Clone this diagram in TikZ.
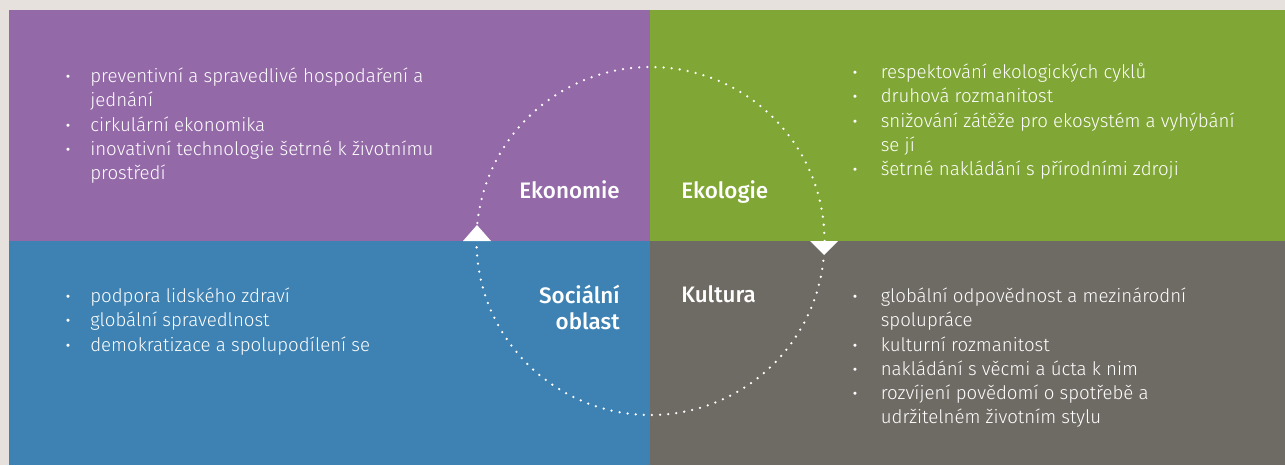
\documentclass[tikz,border=0pt]{standalone}
\usepackage{fontspec}
\setmainfont{Fira Sans Light}[BoldFont=Fira Sans Medium]
\usepackage{array}

\definecolor{pagebg}{RGB}{230,225,221}
\definecolor{ekonomie}{RGB}{148,105,168}
\definecolor{ekologie}{RGB}{128,166,54}
\definecolor{socialni}{RGB}{62,130,179}
\definecolor{kultura}{RGB}{110,106,100}

% bullet list with a hanging indent
\newcommand{\pillarlist}[2][18.4pt]{\begin{tabular}[t]{@{}p{#1}@{}l@{}}#2\end{tabular}}
\newcommand{\bul}{\textbf{·}}

\begin{document}
\begin{tikzpicture}[x=0.75pt, y=-0.75pt,
  head/.style={font=\fontsize{16.8}{19.5}\selectfont\bfseries, text=white, inner sep=0pt},
  items/.style={font=\fontsize{14}{18.2}\selectfont, text=white, inner sep=0pt, anchor=base west},
  cycle/.style={white, line width=1.9pt, line cap=round, dash pattern=on 0pt off 6.1pt},
  tip/.style={fill=white, draw=none}
]
  \useasboundingbox (0,0) rectangle (1285,465);
  \fill[pagebg] (0,0) rectangle (1285,465);

  % Quadrants
  \fill[ekonomie] (9,10) rectangle (650,241);
  \fill[ekologie] (650,10) rectangle (1285,241);
  \fill[socialni] (9,241) rectangle (650,465);
  \fill[kultura] (650,241) rectangle (1285,465);

  % Dotted cycle with its two arrow heads
  \draw[cycle] (650.5,241) circle[radius=130.5pt];
  \fill[tip] (477,225) -- (491,241) -- (463,241) -- cycle;
  \fill[tip] (824,255) -- (810,241) -- (838,241) -- cycle;

  % Ekonomie
  \node[head, anchor=base east] (ekon) at (620,198) {Ekonomie};
  \node[items] (ekonlist) at (65.5,82.5) {\pillarlist{
    \bul & preventivní a spravedlivé hospodaření a\\
         & jednání\\
    \bul & cirkulární ekonomika\\
    \bul & inovativní technologie šetrné k životnímu\\
         & prostředí}};

  % Ekologie
  \node[head, anchor=base west] (ekol) at (681,198) {Ekologie};
  \node[items] (ekollist) at (852.5,78.5) {\pillarlist[21pt]{
    \bul & respektování ekologických cyklů\\
    \bul & druhová rozmanitost\\
    \bul & snižování zátěže pro ekosystém a vyhýbání\\
         & se jí\\
    \bul & šetrné nakládání s přírodními zdroji}};

  % Sociální oblast
  \node[head, anchor=north east, align=right] (soc) at (620,285) {Sociální\\oblast};
  \node[items] (soclist) at (65.5,302.5) {\pillarlist{
    \bul & podpora lidského zdraví\\
    \bul & globální spravedlnost\\
    \bul & demokratizace a spolupodílení se}};

  % Kultura
  \node[head, anchor=base west] (kult) at (681,302) {Kultura};
  \node[items] (kultlist) at (852.5,302.5) {\pillarlist[21pt]{
    \bul & globální odpovědnost a mezinárodní\\
         & spolupráce\\
    \bul & kulturní rozmanitost\\
    \bul & nakládání s věcmi a úcta k nim\\
    \bul & rozvíjení povědomí o spotřebě a\\
         & udržitelném životním stylu}};
\end{tikzpicture}
\end{document}
